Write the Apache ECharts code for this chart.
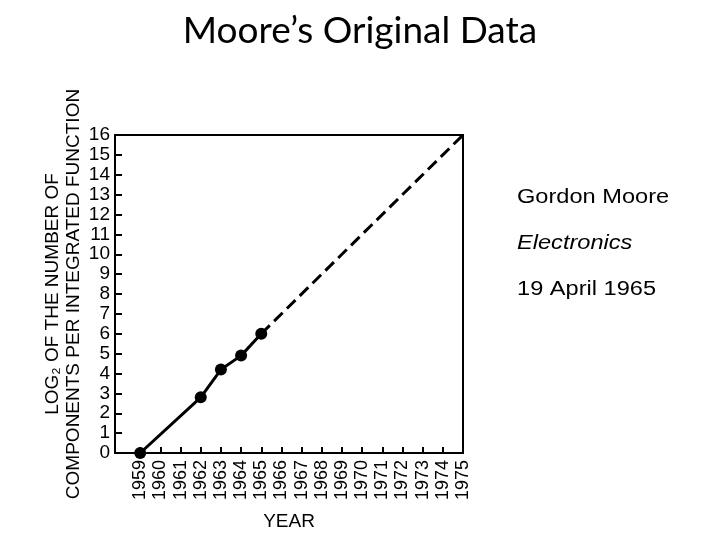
<!DOCTYPE html>
<html>
<head>
<meta charset="utf-8">
<script src="https://cdn.jsdelivr.net/npm/echarts@6/dist/echarts.min.js"></script>
<style>html,body{margin:0;padding:0;background:#fff}#c{width:720px;height:540px}</style>
</head>
<body>
<div id="c"></div>
<script>
const years = [1959, 1962, 1963, 1964, 1965];
const log2Components = [0, 2.8, 4.2, 4.9, 6];
const extrapYears = [1965, 1975];
const extrapValues = [6, 16];
const yearTicks = [1959,1960,1961,1962,1963,1964,1965,1966,1967,1968,1969,1970,1971,1972,1973,1974,1975];
const notes = ['Gordon Moore', 'Electronics', '19 April 1965'];

const chart = echarts.init(document.getElementById('c'));
const axisFont = 'Liberation Sans, Arial, sans-serif';
chart.setOption({
  animation: false,
  backgroundColor: '#fff',
  title: {
    text: 'Moore’s Original Data',
    left: 'center',
    top: 8,
    textStyle: { fontFamily: 'Lato, sans-serif', fontSize: 37, fontWeight: 'normal', color: '#000' }
  },
  grid: {
    left: 115, top: 135, right: 257, bottom: 87,
    show: true, borderColor: '#000', borderWidth: 2, backgroundColor: 'transparent'
  },
  xAxis: {
    type: 'value',
    min: 1957.75,
    max: 1975,
    name: 'YEAR',
    nameLocation: 'middle',
    nameGap: 59,
    nameTextStyle: { fontFamily: axisFont, fontSize: 19, color: '#000' },
    axisLine: { show: true, lineStyle: { color: '#000', width: 2 } },
    axisTick: { show: true, inside: true, length: 6, lineStyle: { color: '#000', width: 2 }, customValues: yearTicks },
    axisLabel: { rotate: 90, margin: 7, color: '#000', fontFamily: axisFont, fontSize: 18, customValues: yearTicks, formatter: v => String(v) },
    splitLine: { show: false }
  },
  yAxis: {
    type: 'value',
    min: 0,
    max: 16,
    interval: 1,
    name: 'LOG₂ OF THE NUMBER OF\nCOMPONENTS PER INTEGRATED FUNCTION',
    nameLocation: 'middle',
    nameRotate: 90,
    nameGap: 31,
    nameTextStyle: { fontFamily: axisFont, fontSize: 19, color: '#000', lineHeight: 21 },
    axisLine: { show: true, lineStyle: { color: '#000', width: 2 } },
    axisTick: { show: true, inside: true, length: 7, lineStyle: { color: '#000', width: 2 } },
    axisLabel: { margin: 5, color: '#000', fontFamily: axisFont, fontSize: 19 },
    splitLine: { show: false }
  },
  graphic: notes.map((t, i) => ({
    type: 'text',
    left: 517,
    top: 187 + i * 46,
    scaleX: 1.18,
    style: {
      text: t,
      fill: '#000',
      font: (i === 1 ? 'italic ' : '') + '20px Liberation Sans, Arial, sans-serif'
    }
  })),
  series: [
    {
      type: 'line',
      data: years.map((y, i) => [y, log2Components[i]]),
      symbol: 'circle',
      symbolSize: 12,
      itemStyle: { color: '#000' },
      lineStyle: { color: '#000', width: 3 },
      z: 3
    },
    {
      type: 'line',
      data: extrapYears.map((y, i) => [y, extrapValues[i]]),
      symbol: 'none',
      lineStyle: { color: '#000', width: 3, type: [12, 6] },
      z: 2
    }
  ]
});
</script>
</body>
</html>
